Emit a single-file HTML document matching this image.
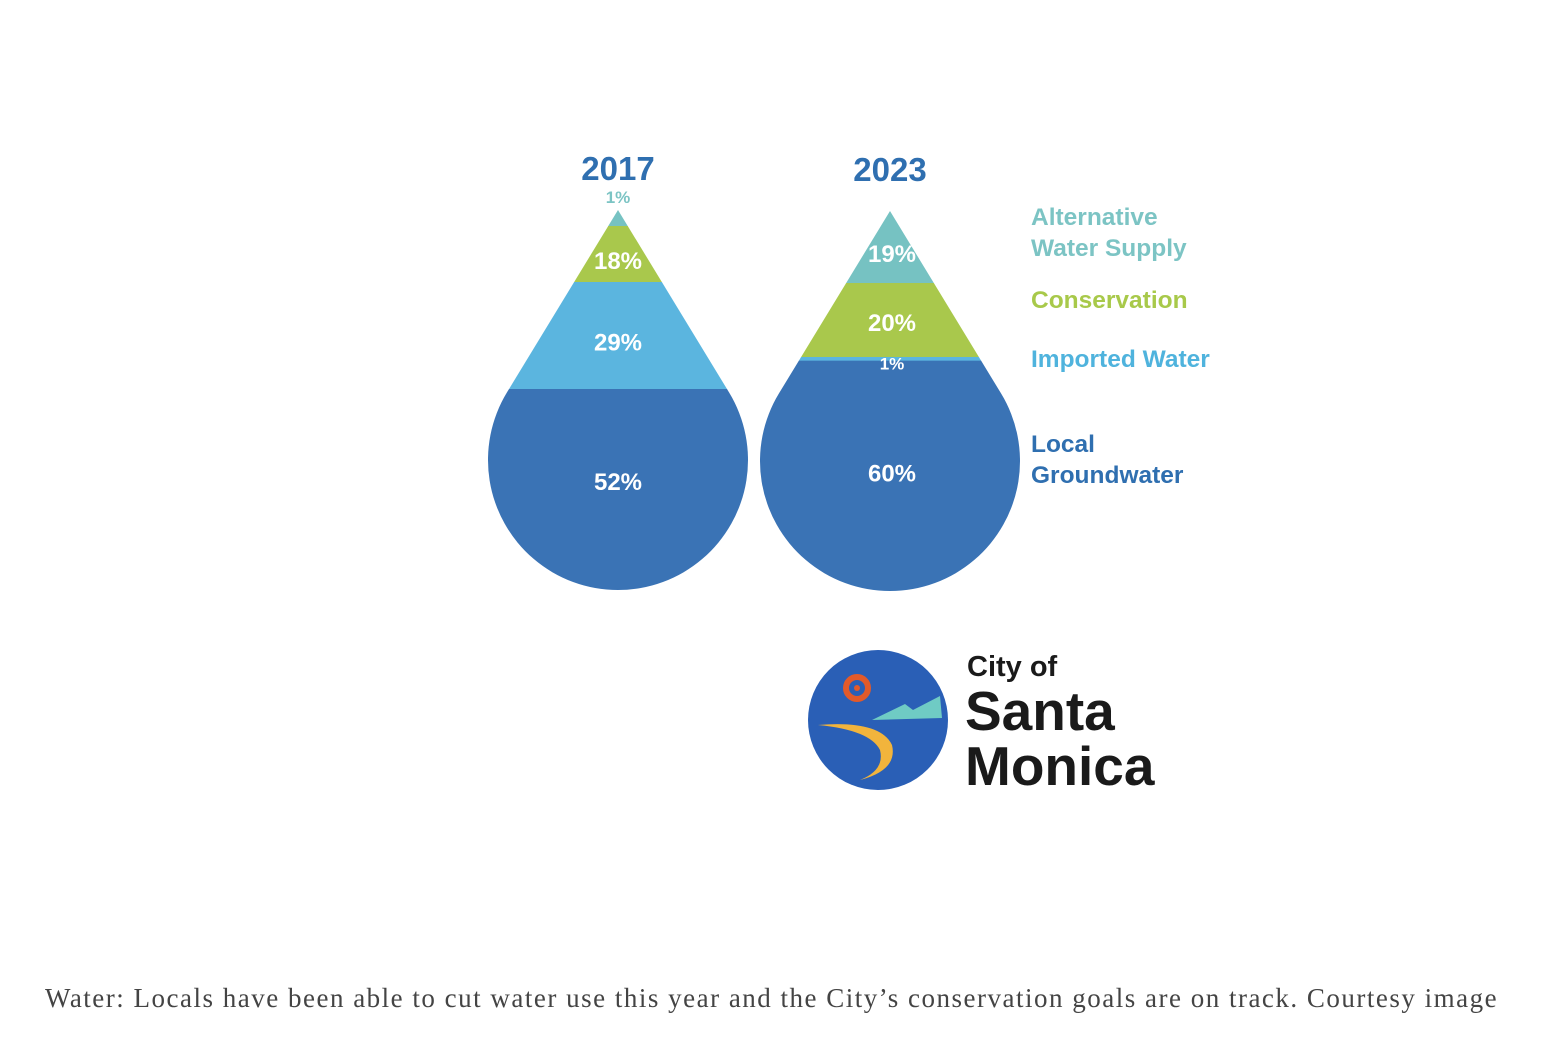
<!DOCTYPE html>
<html><head><meta charset="utf-8"><style>
html,body{margin:0;padding:0;background:#fff;}
body{width:1560px;height:1042px;position:relative;overflow:hidden;}
svg{position:absolute;left:0;top:0;}
.cap{position:absolute;left:45px;top:983px;font-family:"Liberation Serif",serif;font-size:27px;letter-spacing:1.5px;color:#444;white-space:nowrap;}
</style></head><body>
<svg id="chart" width="1560" height="1042" xmlns="http://www.w3.org/2000/svg"></svg>
<div class="cap">Water: Locals have been able to cut water use this year and the City’s conservation goals are on track. Courtesy image</div>
<script>
const years = ["2017","2023"];
const categories = ["Alternative Water Supply","Conservation","Imported Water","Local Groundwater"];
const values2017 = [1,18,29,52];
const values2023 = [19,20,1,60];
const seriesValues = [values2017, values2023];
const colors = ["#76c2c2","#a9c84c","#5bb5df","#3a73b5"];
const labelColors = ["#7cc4c4","#a8c94a","#4fb3dd","#2f6fb0"];

const NS="http://www.w3.org/2000/svg";
const svg=document.getElementById('chart');
function mk(tag,attrs,parent){const e=document.createElementNS(NS,tag);for(const k in attrs)e.setAttribute(k,attrs[k]);(parent||svg).appendChild(e);return e;}
const knotsP=[0,1,19,39,48,100], knotsY=[0,16,72,146,179,380];
function yScale(p){for(let i=1;i<knotsP.length;i++){if(p<=knotsP[i]){const t=(p-knotsP[i-1])/(knotsP[i]-knotsP[i-1]);return knotsY[i-1]+t*(knotsY[i]-knotsY[i-1]);}}return 380;}
const drops=[{cx:618,ty:210},{cx:890,ty:211}];
const r=130, dist=250;
drops.forEach((d,di)=>{
  const cy=d.ty+dist, a=Math.asin(r/dist);
  const tx=r*Math.cos(a), tyy=cy-r*Math.sin(a);
  const path=`M${d.cx},${d.ty} L${d.cx+tx},${tyy} A${r},${r} 0 1 1 ${d.cx-tx},${tyy} Z`;
  const cp=mk('clipPath',{id:'clip'+di});
  mk('path',{d:path},cp);
  const g=mk('g',{'clip-path':`url(#clip${di})`});
  
  
  const vals=seriesValues[di];
  let cum=0;
  vals.forEach((v,i)=>{
    const y0=d.ty+yScale(cum), y1=d.ty+yScale(cum+v);
    const rc=mk('rect',{x:d.cx-r-5,y:y0,width:2*r+10,height:y1-y0+(i==vals.length-1?30:0.5),fill:colors[i]},g);
    
    
    cum+=v;
  });
  const yt=mk('text',{x:d.cx,y:d.ty-30,'text-anchor':'middle','font-family':'Liberation Sans,sans-serif','font-weight':'bold','font-size':33,fill:'#2f6fb0'});
  yt.textContent=years[di];
  
  
  cum=0;
  vals.forEach((v,i)=>{
    const y0=d.ty+yScale(cum), y1=d.ty+yScale(cum+v);
    let y=(y0+y1)/2+15, fs=24, fill='#fff';
    if(v<=1){fs=17; if(di==0&&i==0){y=d.ty-7;fill='#7cc4c4';} else {y=y1+9;}}
    if(di==0&&i==3) y=y0+101;
    if(di==1&&i==3) y=y0+121;
    if(di==1&&i==1) y=(y0+y1)/2+11;
    const t=mk('text',{x:d.cx+(di==1?2:0),y:y,'text-anchor':'middle','font-family':'Liberation Sans,sans-serif','font-weight':'bold','font-size':fs,fill:fill});
    t.textContent=v+'%';
    
    
    cum+=v;
  });
});
const legendLines=[["Alternative","Water Supply"],["Conservation"],["Imported Water"],["Local","Groundwater"]];
const legendY=[225,308,367,452];
legendLines.forEach((lines,i)=>{
  const t=mk('text',{x:1031,y:legendY[i],'font-family':'Liberation Sans,sans-serif','font-weight':'bold','font-size':24.5,fill:labelColors[i]});
  lines.forEach((l,j)=>{const s=mk('tspan',{x:1031,dy:j?31:0},t);s.textContent=l;});
  
  
});
const lg=mk('g',{});


mk('circle',{cx:878,cy:720,r:70,fill:'#2a5fb6'},lg);
mk('path',{d:'M872,720 L905,704 L913,710 L940,696 L942,718 Z',fill:'#6fcbc4'},lg);
mk('path',{d:'M818,725 Q880,720 892,745 Q898,770 860,780 Q885,770 880,750 Q870,730 818,725 Z',fill:'#f2b43c'},lg);
mk('circle',{cx:857,cy:688,r:11,fill:'none',stroke:'#e25a2a','stroke-width':6},lg);
mk('circle',{cx:857,cy:688,r:3,fill:'#e25a2a'},lg);
const l1=mk('text',{x:967,y:676,'font-family':'Liberation Sans,sans-serif','font-weight':'bold','font-size':29,fill:'#1a1a1a'},lg);l1.textContent='City of';
const l2=mk('text',{x:965,y:730,'font-family':'Liberation Sans,sans-serif','font-weight':'bold','font-size':55,fill:'#1a1a1a'},lg);l2.textContent='Santa';
const l3=mk('text',{x:965,y:785,'font-family':'Liberation Sans,sans-serif','font-weight':'bold','font-size':55,fill:'#1a1a1a'},lg);l3.textContent='Monica';
</script>
</body></html>
